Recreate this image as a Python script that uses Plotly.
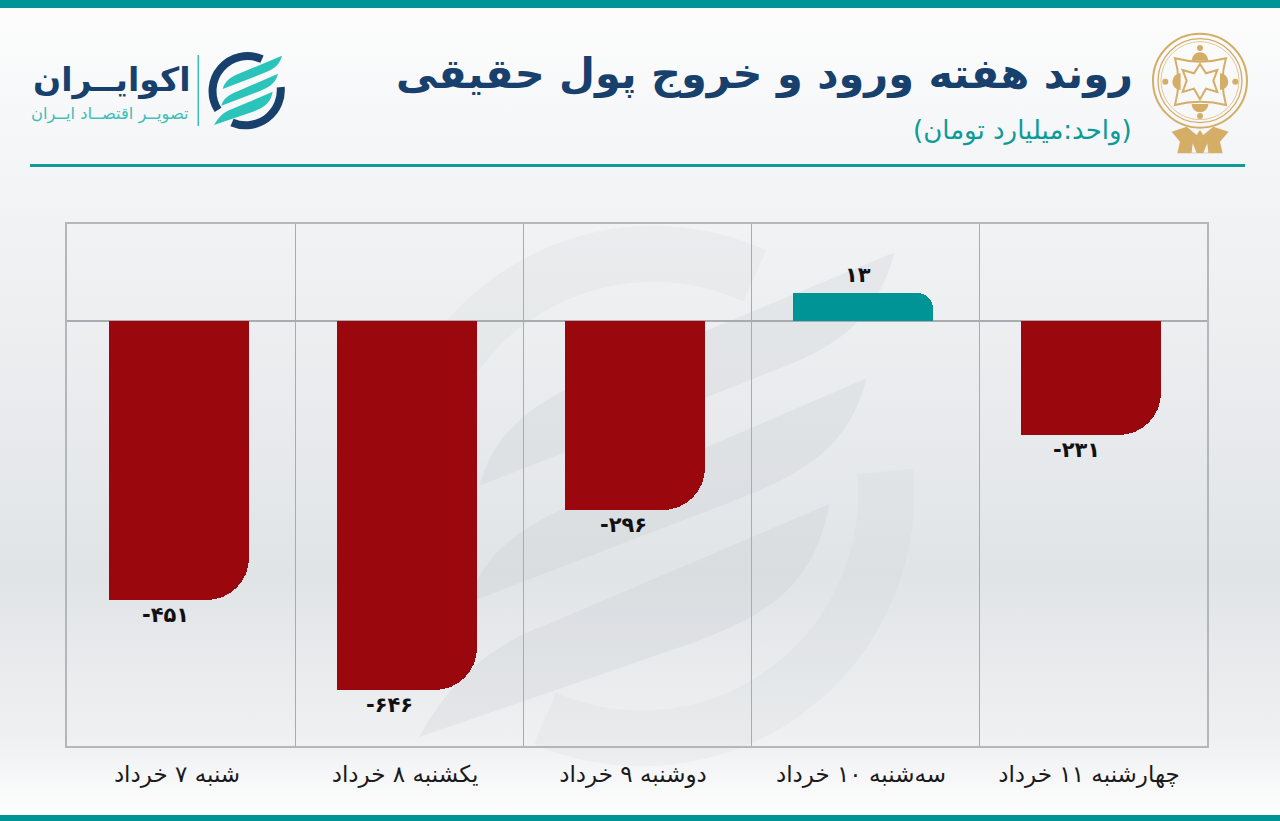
import urllib.parse
import plotly.graph_objects as go

days = ["شنبه ۷ خرداد", "یکشنبه ۸ خرداد", "دوشنبه ۹ خرداد", "سه‌شنبه ۱۰ خرداد", "چهارشنبه ۱۱ خرداد"]
value_labels = ["-۴۵۱", "-۶۴۶", "-۲۹۶", "۱۳", "-۲۳۱"]
# the source bars are not to scale with their printed values, so the
# drawn lengths are kept apart from the labels
bar_lengths = [-279, -369, -189, 27.5, -114]
label_shift = [-16, -20, -14, -7, -17]

NAVY = "#17406d"
TEAL = "#009496"
RED = "#9a080d"
GOLD = "#d4ad66"
W, H = 1280, 821


def px(x):
    return x / W


def py(y):
    return 1 - y / H


def swirl(tx, ty, s, ring, leaf, sw=24):
    return f"""<g transform="translate({tx} {ty}) scale({s})">
<path d="M790 178 A105 105 0 0 0 658 330" fill="none" stroke="{ring}" stroke-width="{sw}"/>
<path d="M846 262 A105 105 0 0 1 700 368" fill="none" stroke="{ring}" stroke-width="{sw}"/>
<path fill="{leaf}" d="M850 168 C840 205 815 212 790 222 L672 268 C678 245 695 232 720 222 Z"/>
<path fill="{leaf}" d="M838 222 C830 255 805 265 780 275 L668 318 C672 298 690 285 715 275 Z"/>
<path fill="{leaf}" d="M822 276 C815 315 790 325 765 335 L646 376 C660 350 680 335 700 328 Z"/>
</g>"""


def seal():
    return f"""<g transform="translate(1000 10) scale(0.3333)">
<circle cx="600" cy="212" r="141" fill="none" stroke="{GOLD}" stroke-width="6"/>
<circle cx="600" cy="212" r="126" fill="none" stroke="{GOLD}" stroke-width="4"/>
<circle cx="600" cy="212" r="117" fill="none" stroke="{GOLD}" stroke-width="2"/>
<path d="M525 145 Q600 165 678 145 Q658 212 678 285 Q600 265 525 285 Q545 212 525 145 Z" fill="none" stroke="{GOLD}" stroke-width="6"/>
<path d="M600 162 L618 190 L652 180 L640 212 L652 246 L618 236 L600 268 L582 236 L548 246 L560 212 L548 180 L582 190 Z" fill="none" stroke="{GOLD}" stroke-width="6"/>
<path fill="{GOLD}" d="M575 152 A25 25 0 0 1 625 152 Z"/><circle cx="600" cy="114" r="9" fill="{GOLD}"/>
<path fill="{GOLD}" d="M575 282 A25 25 0 0 0 625 282 Z"/><circle cx="600" cy="318" r="9" fill="{GOLD}"/>
<path fill="{GOLD}" d="M542 190 A25 25 0 0 0 542 240 Z"/><circle cx="496" cy="215" r="9" fill="{GOLD}"/>
<path fill="{GOLD}" d="M660 190 A25 25 0 0 1 660 240 Z"/><circle cx="706" cy="215" r="9" fill="{GOLD}"/>
<path fill="{GOLD}" d="M515 365 L560 350 L590 375 L600 360 L610 375 L640 350 L686 365 L660 395 L668 430 L532 430 L540 395 Z"/>
<path fill="#f4f5f7" d="M578 400 L590 428 L575 428 Z M622 400 L625 428 L610 428 Z"/>
</g>"""


svg = f"""<svg xmlns="http://www.w3.org/2000/svg" width="{W}" height="{H}" viewBox="0 0 {W} {H}">
<defs><linearGradient id="bg" x1="0" y1="0" x2="0" y2="1">
<stop offset="0" stop-color="#fdfdfd"/><stop offset="0.2" stop-color="#f4f5f7"/>
<stop offset="0.7" stop-color="#e1e4e7"/><stop offset="0.9" stop-color="#eff0f2"/>
<stop offset="1" stop-color="#ffffff"/></linearGradient></defs>
<rect width="{W}" height="{H}" fill="url(#bg)"/>
{swirl(-1086, -139, 2.33, "rgba(190,194,198,0.12)", "rgba(190,194,198,0.2)")}
<rect width="{W}" height="8" fill="{TEAL}"/>
<rect y="815" width="{W}" height="6" fill="{TEAL}"/>
<rect x="30" y="164" width="1215" height="3" fill="#129a99"/>
<rect x="197.5" y="55" width="1.5" height="71" fill="#3cc0b6"/>
{swirl(-1.3, -0.2, 0.3333, NAVY, "#2bc4bb")}
{seal()}
</svg>"""

bar_w = 0.614
bar_off = -0.317

fig = go.Figure()
neg = [v if v < 0 else None for v in bar_lengths]
pos = [v if v > 0 else None for v in bar_lengths]

# rounded bars + a square half on top, so only the right corner stays round
for vals, col, rad in [(neg, RED, 42), (pos, TEAL, 16)]:
    fig.add_trace(go.Bar(x=days, y=vals, width=bar_w, offset=bar_off,
                         marker=dict(color=col, cornerradius=rad, line_width=0), showlegend=False))
    fig.add_trace(go.Bar(x=days, y=vals, width=bar_w / 2, offset=bar_off,
                         marker=dict(color=col, line_width=0), showlegend=False))

fig.update_layout(
    width=W, height=H, autosize=False,
    margin=dict(l=0, r=0, t=0, b=0),
    barmode="overlay", bargap=0,
    paper_bgcolor="#f0f1f3", plot_bgcolor="rgba(0,0,0,0)",
    font=dict(family="DejaVu Sans"),
    images=[dict(source="data:image/svg+xml;charset=utf-8," + urllib.parse.quote(svg),
                 xref="paper", yref="paper", x=0, y=1, sizex=1, sizey=1,
                 sizing="stretch", xanchor="left", yanchor="top", layer="below")],
)
fig.update_xaxes(domain=[px(67), px(1207)], type="category", range=[-0.5, 4.5],
                 tickson="boundaries", showgrid=True, gridcolor="#a9acaf", gridwidth=1,
                 showline=True, mirror=True, linecolor="#b4b7ba", linewidth=1.5,
                 ticks="", ticklabelstandoff=7, ticklabelshift=-4,
                 tickfont=dict(family="DejaVu Sans", size=23, color="#1a1a1a"))
fig.update_yaxes(domain=[py(746), py(224)], range=[-425.5, 96.5], showgrid=False,
                 showticklabels=False, ticks="", zeroline=True, zerolinecolor="#a9acaf",
                 zerolinewidth=1.5, showline=True, mirror=True, linecolor="#b4b7ba", linewidth=1.5)

for d, v, t, s in zip(days, bar_lengths, value_labels, label_shift):
    fig.add_annotation(text=t, x=d, y=v, xshift=s, yshift=-15 if v < 0 else 18, showarrow=False,
                       font=dict(family="DejaVu Sans", size=21, color="#111111", weight="bold"))

fig.add_annotation(text="روند هفته ورود و خروج پول حقیقی", xref="paper", yref="paper",
                   x=px(1135), y=py(74), xanchor="right", yanchor="middle", showarrow=False,
                   font=dict(family="DejaVu Sans", size=41.5, color=NAVY, weight="bold"))
fig.add_annotation(text="(واحد:میلیارد تومان)", xref="paper", yref="paper",
                   x=px(1134), y=py(131), xanchor="right", yanchor="middle", showarrow=False,
                   font=dict(family="DejaVu Sans", size=26, color="#0d9a9a"))
fig.add_annotation(text="اکوایــران", xref="paper", yref="paper",
                   x=px(192), y=py(80), xanchor="right", yanchor="middle", showarrow=False,
                   font=dict(family="DejaVu Sans", size=33, color=NAVY, weight="bold"))
fig.add_annotation(text="تصویــر اقتصــاد ایــران", xref="paper", yref="paper",
                   x=px(191), y=py(114), xanchor="right", yanchor="middle", showarrow=False,
                   font=dict(family="DejaVu Sans", size=16.3, color="#3cc0b6"))

fig.write_html("out.html", config=dict(displayModeBar=False),
               post_script="document.body.style.margin='0';document.body.style.overflow='hidden';")
